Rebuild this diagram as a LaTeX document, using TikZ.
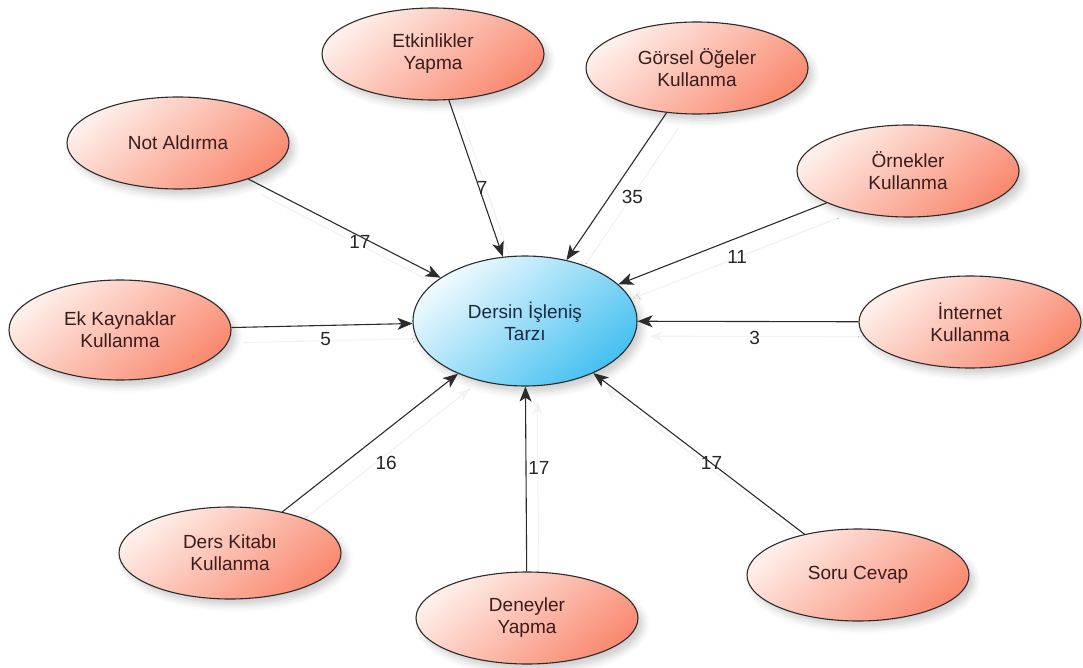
\documentclass[tikz,border=0pt]{standalone}
\usepackage{fontspec}
\setmainfont{Liberation Sans}
\usetikzlibrary{arrows.meta, shapes.geometric, shadows.blur, backgrounds}
\definecolor{salmonlight}{HTML}{FEEFEA}
\definecolor{salmondark}{HTML}{F98A71}
\definecolor{skylight}{HTML}{F0FAFE}
\definecolor{skydark}{HTML}{45C0F0}
\definecolor{edgegray}{HTML}{2B2B2B}
\definecolor{inkred}{HTML}{3A1C1C}
\definecolor{inkblue}{HTML}{1B2A44}

\begin{document}
\begin{tikzpicture}[
  x=1pt, y=-1pt,
  topic/.style={ellipse, draw=edgegray, line width=1.1pt, top color=salmonlight, bottom color=salmondark, shading angle=40, minimum width=222pt, minimum height=92pt, inner sep=0pt, align=center, text=inkred, font=\fontsize{19}{22}\selectfont, blur shadow={shadow xshift=5pt, shadow yshift=-6pt, shadow opacity=20, shadow blur radius=7pt}},
  core/.style={topic, top color=skylight, bottom color=skydark, shading angle=40, minimum width=224pt, minimum height=130pt, text=inkblue},
  arr/.style={-{Stealth[length=15pt, width=12pt, inset=4pt]}, line width=1.1pt, draw=edgegray},
  ghost/.style={-{Stealth[length=13pt, width=10pt, inset=4pt]}, line width=1.2pt, draw=black!5, transform canvas={shift={(12pt,-15pt)}}},
  num/.style={font=\fontsize{19}{22}\selectfont, text=black!85, inner sep=1pt}
]
\useasboundingbox (0,0) rectangle (1083,668);

\node[core] (dersin) at (525,321) {Dersin İşleniş\\Tarzı};
\node[topic] (etkinlik) at (433,54) {Etkinlikler\\Yapma};
\node[topic] (gorsel) at (697,68) {Görsel Öğeler\\Kullanma};
\node[topic] (notal) at (178,143) {Not Aldırma};
\node[topic] (ornek) at (908,171) {Örnekler\\Kullanma};
\node[topic, minimum height=100pt] (ekkay) at (120,330) {Ek Kaynaklar\\Kullanma};
\node[topic] (internet) at (970,322) {İnternet\\Kullanma};
\node[topic] (kitap) at (230,553) {Ders Kitabı\\Kullanma};
\node[topic] (deney) at (527,618) {Deneyler\\Yapma};
\node[topic] (soru) at (858,575) {Soru Cevap};

% faint edge shadows
\begin{scope}[on background layer]
\foreach \src in {notal, etkinlik, gorsel, ornek, ekkay, internet, kitap, deney, soru}
  \draw[ghost] (\src) -- (dersin);
\end{scope}

\draw[arr] (notal) -- node[num, pos=0.58, yshift=-6pt] {17} (dersin);
\draw[arr] (etkinlik) -- node[num, pos=0.56, xshift=3pt] {7} (dersin);
\draw[arr] (gorsel) -- node[num, pos=0.57, xshift=23pt] {35} (dersin);
\draw[arr] (ornek) -- node[num, pos=0.43, yshift=-19pt] {11} (dersin);
\draw[arr] (ekkay) -- node[num, pos=0.52, yshift=-14pt] {5} (dersin);
\draw[arr] (internet) -- node[num, pos=0.47, yshift=-16pt] {3} (dersin);
\draw[arr] (kitap) -- node[num, pos=0.5, xshift=16pt, yshift=-20pt] {16} (dersin);
\draw[arr] (deney) -- node[num, pos=0.56, xshift=13pt] {17} (dersin);
\draw[arr] (soru) -- node[num, pos=0.44] {17} (dersin);
\end{tikzpicture}
\end{document}
